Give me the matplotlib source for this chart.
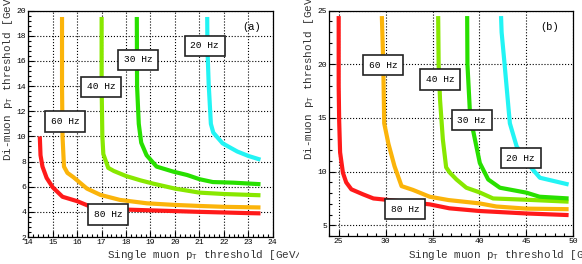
import matplotlib.pyplot as plt
from matplotlib.ticker import MultipleLocator
from matplotlib.transforms import Bbox, TransformedBbox

plt.rcParams['font.family'] = ['Liberation Mono', 'DejaVu Sans Mono']
plt.rcParams['mathtext.default'] = 'regular'

# ---- panel (a) curves ----
a80_x = [14.47, 14.50, 14.58, 14.75, 15.0, 15.4, 16.0, 16.5, 17.0, 18.0, 19.0, 20.0, 21.0, 22.0, 23.0, 23.5]
a80_y = [10.0, 8.5, 7.6, 6.7, 5.95, 5.2, 4.85, 4.45, 4.25, 4.18, 4.12, 4.06, 4.0, 3.95, 3.9, 3.88]
a60_x = [15.38, 15.38, 15.40, 15.46, 15.6, 15.85, 16.4, 16.95, 17.75, 18.85, 20.0, 21.0, 22.0, 23.5]
a60_y = [19.5, 14.0, 10.0, 7.6, 7.1, 6.75, 5.85, 5.35, 4.95, 4.68, 4.55, 4.47, 4.4, 4.35]
a40_x = [17.0, 17.0, 17.03, 17.07, 17.27, 17.5, 18.0, 18.6, 19.1, 20.0, 21.0, 22.0, 23.5]
a40_y = [19.5, 14.0, 10.0, 8.6, 7.5, 7.25, 6.85, 6.5, 6.25, 5.85, 5.53, 5.42, 5.32]
a30_x = [18.44, 18.45, 18.52, 18.62, 18.84, 19.25, 19.93, 20.5, 21.0, 21.55, 22.4, 23.5]
a30_y = [19.5, 14.0, 11.0, 9.5, 8.5, 7.6, 7.2, 6.93, 6.6, 6.37, 6.32, 6.2]
a20_x = [21.32, 21.33, 21.38, 21.47, 21.57, 21.95, 22.55, 23.0, 23.5]
a20_y = [19.5, 17.0, 14.2, 11.0, 10.3, 9.45, 8.8, 8.45, 8.15]

# ---- panel (b) curves ----
b80_x = [25.0, 25.0, 25.05, 25.15, 25.45, 25.8, 26.35, 27.6, 28.7, 29.7, 32.0, 34.7, 36.8, 40.0, 45.0, 49.5]
b80_y = [24.5, 18.0, 14.8, 11.8, 9.9, 9.0, 8.35, 7.88, 7.5, 7.41, 7.2, 6.95, 6.58, 6.33, 6.1, 5.95]
b60_x = [29.6, 29.75, 29.85, 30.3, 30.95, 31.7, 32.9, 34.7, 36.7, 40.0, 41.8, 45.0, 49.5]
b60_y = [24.5, 20.0, 14.5, 12.6, 10.5, 8.65, 8.3, 7.66, 7.35, 7.04, 6.75, 6.55, 6.5]
b40_x = [35.6, 35.65, 35.8, 36.1, 36.45, 36.85, 37.55, 38.6, 40.0, 41.45, 45.0, 49.5]
b40_y = [24.5, 20.0, 16.7, 13.0, 10.4, 9.9, 9.27, 8.5, 8.07, 7.5, 7.38, 7.2]
b30_x = [38.69, 38.72, 38.97, 39.33, 40.04, 40.93, 42.18, 45.0, 46.4, 49.5]
b30_y = [24.5, 20.0, 15.8, 13.8, 10.8, 9.27, 8.5, 8.04, 7.66, 7.5]
b20_x = [42.3, 42.36, 42.7, 43.24, 43.96, 45.38, 46.44, 49.5]
b20_y = [24.5, 23.0, 19.8, 14.5, 12.36, 10.5, 9.43, 8.8]

rates = ['80 Hz', '60 Hz', '40 Hz', '30 Hz', '20 Hz']
colors = ['#ff1a1a', '#fbb40a', '#88e800', '#28e000', '#22f4f4']

# label positions (data coords) for the rate boxes
a_lab = [(17.27, 3.8), (15.5, 11.2), (16.99, 13.95), (18.5, 16.1), (21.22, 17.2)]
b_lab = [(32.07, 6.5), (29.73, 19.93), (35.83, 18.58), (39.19, 14.8), (44.4, 11.24)]

fig = plt.figure(figsize=(5.82, 2.64), dpi=100)
ax1 = fig.add_axes([28.3 / 582, 27 / 264, 244.4 / 582, 226.3 / 264])
ax2 = fig.add_axes([329.3 / 582, 28 / 264, 244 / 582, 225.3 / 264])


def style(ax, xlim, ylim, xmaj, xmin, ymaj, ymin):
    ax.set_xlim(*xlim)
    ax.set_ylim(*ylim)
    ax.xaxis.set_major_locator(MultipleLocator(xmaj))
    ax.xaxis.set_minor_locator(MultipleLocator(xmin))
    ax.yaxis.set_major_locator(MultipleLocator(ymaj))
    ax.yaxis.set_minor_locator(MultipleLocator(ymin))
    ax.tick_params(which='both', direction='in', top=False, right=False,
                   labelsize=5.8, pad=1.5, width=0.8)
    ax.tick_params(which='major', length=4)
    ax.tick_params(which='minor', length=2)
    ax.grid(True, which='major', color='black', linestyle=':', linewidth=0.8)
    for s in ax.spines.values():
        s.set_linewidth(0.9)


style(ax1, (14, 24), (2, 20), 1, 0.2, 2, 0.4)
style(ax2, (24, 50), (4, 25), 5, 1, 5, 1)

for ax, curves, labs in [
    (ax1, [(a80_x, a80_y), (a60_x, a60_y), (a40_x, a40_y), (a30_x, a30_y), (a20_x, a20_y)], a_lab),
    (ax2, [(b80_x, b80_y), (b60_x, b60_y), (b40_x, b40_y), (b30_x, b30_y), (b20_x, b20_y)], b_lab),
]:
    for (x, y), c in zip(curves, colors):
        ax.plot(x, y, color=c, lw=3, solid_capstyle='butt', zorder=3)
    for (lx, ly), r in zip(labs, rates):
        ax.text(lx, ly, r, fontsize=6.8, ha='center', va='center', zorder=5,
                bbox=dict(boxstyle='square,pad=0.6', fc='white', ec='#222222', lw=1.2))

ax1.text(23.14, 18.73, '(a)', fontsize=7.5, ha='center', va='center')
ax2.text(47.5, 23.5, '(b)', fontsize=7.5, ha='center', va='center')

xl = 'Single muon p$_T$ threshold [GeV/c]'
yl = 'Di-muon p$_T$ threshold [GeV/c]'
t1 = fig.text(107 / 582, 1 - 255 / 264, xl, fontsize=7.8, ha='left', va='center', color='#333333')
t1.set_clip_box(TransformedBbox(Bbox([[0, 0], [299 / 582, 1]]), fig.transFigure))
t1.set_clip_on(True)
fig.text(408 / 582, 1 - 255 / 264, xl, fontsize=7.8, ha='left', va='center', color='#333333')
fig.text(8 / 582, 1 - 161 / 264, yl, fontsize=7.8, rotation=90, ha='center', va='bottom', color='#333333')
fig.text(309 / 582, 1 - 160 / 264, yl, fontsize=7.8, rotation=90, ha='center', va='bottom', color='#333333')

fig.savefig('out.png', dpi=100)
